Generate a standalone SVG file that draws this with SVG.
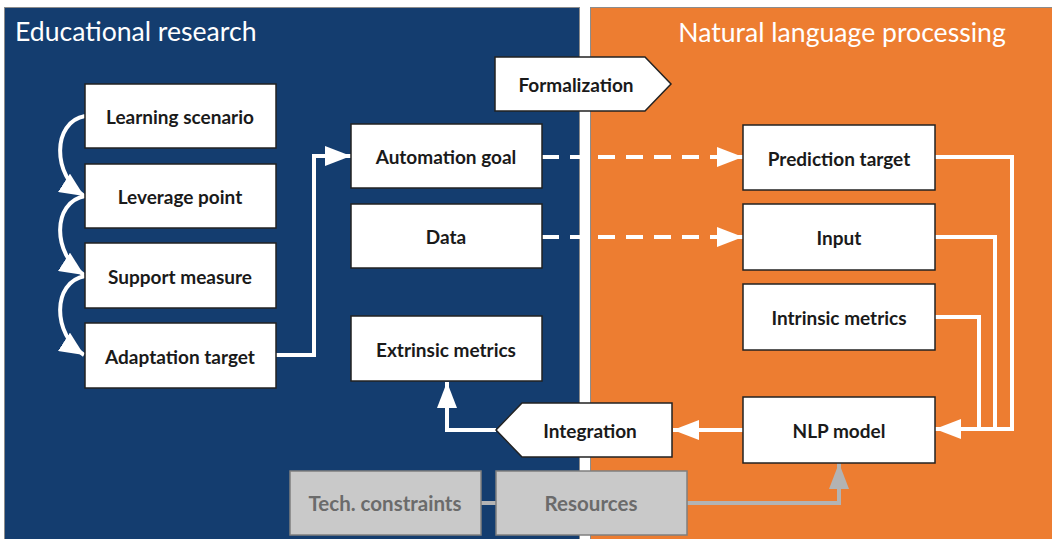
<svg xmlns="http://www.w3.org/2000/svg" width="1052" height="539" viewBox="0 0 1052 539">
<style>
.box{fill:#fff;stroke:#222;stroke-width:1.5}
.gbox{fill:#c9c9c9;stroke:#7f7f7f;stroke-width:1.5}
.t{font-family:Lato,"Liberation Sans",sans-serif;font-weight:bold;font-size:19px;fill:#1a1a1a;text-anchor:middle;dominant-baseline:central}
.gt{font-family:Lato,"Liberation Sans",sans-serif;font-weight:bold;font-size:20.5px;fill:#6b6b6b;text-anchor:middle;dominant-baseline:central}
.title{font-family:Lato,"Liberation Sans",sans-serif;font-size:26.6px;fill:#fff}
.w{fill:none;stroke:#fff;stroke-width:4}
.wd{fill:none;stroke:#fff;stroke-width:4;stroke-dasharray:17 11}
.g{fill:none;stroke:#b3b3b3;stroke-width:4}
</style>
<defs>
<marker id="aw" markerUnits="userSpaceOnUse" markerWidth="26" markerHeight="20" refX="26" refY="10" orient="auto"><path d="M0,0 L26,10 L0,20 Z" fill="#fff"/></marker>
<marker id="ac" markerUnits="userSpaceOnUse" markerWidth="24" markerHeight="22" refX="24" refY="11" orient="auto"><path d="M0,0 L24,11 L0,22 Z" fill="#fff"/></marker>
<marker id="ag" markerUnits="userSpaceOnUse" markerWidth="26" markerHeight="20" refX="26" refY="10" orient="auto"><path d="M0,0 L26,10 L0,20 Z" fill="#b3b3b3"/></marker>
</defs>
<rect x="0" y="0" width="1052" height="539" fill="#fff"/>
<g id="panel-edu">
<rect x="4.5" y="7.5" width="575" height="540" fill="#143d6f" stroke="#8c8c8c" stroke-width="1"/>
<text class="title" x="15" y="41">Educational research</text>
</g>
<g id="panel-nlp">
<rect x="590.5" y="7.5" width="470" height="540" fill="#ed7d31" stroke="#8c8c8c" stroke-width="1"/>
<text class="title" x="842" y="42" text-anchor="middle">Natural language processing</text>
</g>
<g id="connectors">
<path class="w" d="M85,116 C52,122 52,175 84,196" marker-end="url(#ac)"/>
<path class="w" d="M85,196 C52,202 52,254 84,275" marker-end="url(#ac)"/>
<path class="w" d="M85,276 C52,282 52,334 84,355" marker-end="url(#ac)"/>
<path class="w" d="M276,355 H314 V156 H351" marker-end="url(#aw)"/>
<path class="wd" d="M542,157 H743" marker-end="url(#aw)"/>
<path class="wd" d="M542,237 H743" marker-end="url(#aw)"/>
<path class="w" d="M935,157 H1012 V429 H935" marker-end="url(#aw)"/>
<path class="w" d="M935,237 H995 V429"/>
<path class="w" d="M935,317 H979 V429"/>
<path class="w" d="M743,430 H673" marker-end="url(#aw)"/>
<path class="w" d="M496,430 H447 V382" marker-end="url(#aw)"/>
<path class="g" d="M481,503 H496"/>
<path class="g" d="M687,503 H839 V463" marker-end="url(#ag)"/>
</g>
<g id="learning-scenario"><rect class="box" x="85" y="84" width="191" height="64"/><text class="t" x="180" y="116">Learning scenario</text></g>
<g id="leverage-point"><rect class="box" x="85" y="164" width="191" height="64"/><text class="t" x="180" y="196">Leverage point</text></g>
<g id="support-measure"><rect class="box" x="85" y="243" width="191" height="65"/><text class="t" x="180" y="276">Support measure</text></g>
<g id="adaptation-target"><rect class="box" x="85" y="323" width="191" height="65"/><text class="t" x="180" y="356">Adaptation target</text></g>
<g id="automation-goal"><rect class="box" x="351" y="124" width="191" height="64"/><text class="t" x="446" y="156">Automation goal</text></g>
<g id="data"><rect class="box" x="351" y="204" width="191" height="64"/><text class="t" x="446" y="236">Data</text></g>
<g id="extrinsic-metrics"><rect class="box" x="351" y="316" width="191" height="65"/><text class="t" x="446" y="349">Extrinsic metrics</text></g>
<g id="formalization"><path class="box" d="M495,57 H645 L671,84 L645,111 H495 Z"/><text class="t" x="576" y="84">Formalization</text></g>
<g id="prediction-target"><rect class="box" x="743" y="125" width="192" height="65"/><text class="t" x="839" y="158">Prediction target</text></g>
<g id="input"><rect class="box" x="743" y="204" width="192" height="66"/><text class="t" x="839" y="237">Input</text></g>
<g id="intrinsic-metrics"><rect class="box" x="743" y="284" width="192" height="66"/><text class="t" x="839" y="317">Intrinsic metrics</text></g>
<g id="nlp-model"><rect class="box" x="743" y="397" width="192" height="66"/><text class="t" x="839" y="430">NLP model</text></g>
<g id="integration"><path class="box" d="M496,430 L522,403 H672 V457 H522 Z"/><text class="t" x="590" y="430">Integration</text></g>
<g id="tech-constraints"><rect class="gbox" x="290" y="471" width="191" height="64"/><text class="gt" x="385" y="503">Tech. constraints</text></g>
<g id="resources"><rect class="gbox" x="496" y="471" width="191" height="64"/><text class="gt" x="591" y="503">Resources</text></g>
</svg>
